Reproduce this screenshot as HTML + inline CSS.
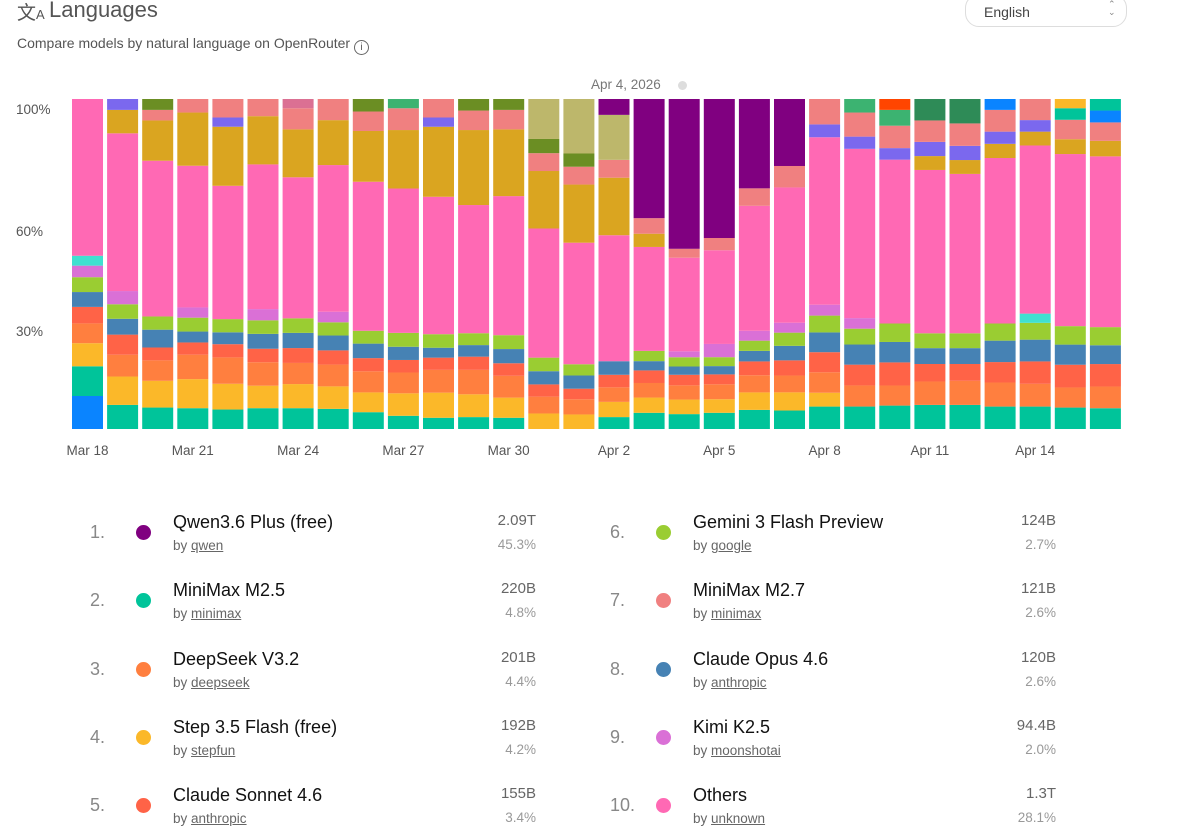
<!DOCTYPE html>
<html><head><meta charset="utf-8"><style>
html,body{margin:0;padding:0;background:#fff;width:1200px;height:840px;overflow:hidden;font-family:"Liberation Sans",sans-serif;}
.abs{position:absolute;}
.rank{position:absolute;font-size:18px;color:#888;}
.dot{position:absolute;width:15px;height:15px;border-radius:50%;}
.nm{position:absolute;font-size:18px;color:#111;white-space:nowrap;}
.by{position:absolute;font-size:13.5px;color:#666;}
.by u{text-decoration:underline;color:#666;}
.val{position:absolute;font-size:15px;color:#666;text-align:right;width:120px;}
.pct{position:absolute;font-size:13.5px;color:#999;text-align:right;width:120px;}
</style></head><body>
<div class="abs" style="left:17px;top:-2px;font-size:19px;color:#555;">文<span style="font-size:13px">A</span></div>
<div class="abs" style="left:49px;top:-3px;font-size:22px;color:#555;">Languages</div>
<div class="abs" style="left:17px;top:35px;font-size:14px;color:#555;">Compare models by natural language on OpenRouter <span style="display:inline-block;width:13px;height:13px;border:1px solid #666;border-radius:50%;font-size:10px;text-align:center;line-height:13px;vertical-align:-2px;">i</span></div>
<div class="abs" style="left:965px;top:-6px;width:162px;height:33px;border:1px solid #ddd;border-radius:14px;box-sizing:border-box;">
<span class="abs" style="left:18px;top:9px;font-size:14px;color:#444;">English</span>
<span class="abs" style="left:142px;top:5px;font-size:9px;color:#888;line-height:8px;">⌃<br>⌄</span></div>
<div class="abs" style="left:591px;top:77px;font-size:13.5px;color:#777;">Apr 4, 2026</div>
<div class="abs" style="left:678px;top:81px;width:9px;height:9px;border-radius:50%;background:#ddd;"></div>
<svg class="abs" style="left:0;top:0" width="1200" height="480" id="chart"></svg>
<div id="legend"></div>
<script>
const dates=["Mar 18","Mar 19","Mar 20","Mar 21","Mar 22","Mar 23","Mar 24","Mar 25","Mar 26","Mar 27","Mar 28","Mar 29","Mar 30","Mar 31","Apr 1","Apr 2","Apr 3","Apr 4","Apr 5","Apr 6","Apr 7","Apr 8","Apr 9","Apr 10","Apr 11","Apr 12","Apr 13","Apr 14","Apr 15","Apr 16"];
const seriesNames=["bottom-blue","minimax-m2-5","step-3-5-flash","deepseek-v3-2","claude-sonnet-4-6","claude-opus-4-6","gemini-3-flash","kimi-k2-5","turquoise-model","others","goldenrod-model","slateblue-model","minimax-m2-7","olive-model","khaki-model","qwen3-6-plus","paleviolet-model","seagreen-model","darkgreen-model","blue-model","orangered-model","teal-model-2","yellow-model-2"];
const seriesColors=["#0a84ff","#00c49a","#fbb829","#ff7f3f","#ff6347","#4682b4","#9acd32","#da70d6","#40e0d0","#ff69b4","#daa520","#7b68ee","#f08080","#6b8e23","#bdb76b","#800080","#db7093","#3cb371","#2e8b57","#0a84ff","#ff4500","#00c49a","#fbb829"];
const sBottomBlue=[10,0,0,0,0,0,0,0,0,0,0,0,0,0,0,0,0,0,0,0,0,0,0,0,0,0,0,0,0,0];
const sMinimax25=[9,7.3,6.5,6.3,5.9,6.3,6.3,6.1,5.1,4,3.4,3.6,3.4,0,0,3.6,4.9,4.5,4.9,5.8,5.6,6.8,6.8,7.1,7.3,7.3,6.8,6.8,6.5,6.3];
const sStep=[7,8.6,8.1,8.8,7.8,6.8,7.3,6.8,6,6.8,7.6,6.9,6.1,4.7,4.4,4.6,4.6,4.4,4.1,5.3,5.5,4.2,0,0,0,0,0,0,0,0];
const sDeepseek=[6,6.6,6.2,7.4,8,7.1,6.4,6.6,6.4,6.3,6.9,7.4,6.6,5.1,4.6,4.4,4.4,4.3,4.5,5.2,5.1,6.2,6.4,6.1,7.1,7.3,7.3,6.9,6.1,6.6];
const sSonnet=[5,6.1,3.9,3.7,4,4.1,4.5,4.3,4,3.8,3.7,4,3.8,3.7,3.2,3.8,3.8,3.2,3,4.2,4.6,6.1,6.3,7,5.3,5.1,6.2,6.8,6.9,6.8];
const sOpus=[4.5,4.8,5.4,3.3,3.6,4.5,4.6,4.5,4.4,4,3,3.5,4.3,4,4,4.1,2.8,2.5,2.5,3.2,4.4,6,6.1,6.2,4.8,4.8,6.5,6.6,6.1,5.7];
const sGemini=[4.5,4.4,4,4.2,4,4.1,4.4,4,3.9,4.2,4.1,3.6,4.2,4.1,3.4,0,3.1,2.8,2.7,3.1,4,5.1,4.8,5.6,4.5,4.5,5.2,5.1,5.6,5.5];
const sKimi=[3.5,4,0,3.1,0,3.4,0,3.2,0,0,0,0,0,0,0,0,0,1.8,4,3,3,3.3,3.2,0,0,0,0,0,0,0];
const sTurq=[3,0,0,0,0,0,0,0,0,0,0,0,0,0,0,0,0,0,0,0,0,0,0,0,0,0,0,2.8,0,0];
const sOthers=[47.5,47.8,47.2,42.9,40.4,43.8,42.7,44.4,45.2,43.7,41.6,38.8,42.1,39.1,36.8,38.1,31.4,28.3,28.3,37.9,41,50.8,51.3,49.7,49.5,48.3,50.2,51,52.2,51.8];
const sGold=[0,7.1,12.2,16.1,17.9,14.6,14.5,13.6,15.4,17.7,21.2,22.7,20.2,17.4,17.6,17.4,4,0,0,0,0,0,0,0,4.2,4.2,4.3,4.2,4.5,4.7];
const sSlate=[0,3.3,0,0,2.8,0,0,0,0,0,2.8,0,0,0,0,0,0,0,0,0,0,3.9,3.7,3.5,4.3,4.3,3.7,3.5,0,0];
const sMinimax27=[0,0,3.2,4.1,5.6,5.2,6.4,6.4,5.9,6.6,5.6,5.9,5.9,5.4,5.4,5.4,4.7,2.7,3.7,5.3,6.5,7.7,7.3,6.8,6.5,6.8,6.6,6.4,5.9,5.6];
const sOlive=[0,0,3.3,0,0,0,0,0,3.8,0,0,3.5,3.3,4.3,4,0,0,0,0,0,0,0,0,0,0,0,0,0,0,0];
const sKhaki=[0,0,0,0,0,0,0,0,0,0,0,0,0,12.1,16.5,13.6,0,0,0,0,0,0,0,0,0,0,0,0,0,0];
const sQwen=[0,0,0,0,0,0,0,0,0,0,0,0,0,0,0,4.8,36,45.3,42,27.1,20.3,0,0,0,0,0,0,0,0,0];
const sPviolet=[0,0,0,0,0,0,2.8,0,0,0,0,0,0,0,0,0,0,0,0,0,0,0,0,0,0,0,0,0,0,0];
const sSeagreen=[0,0,0,0,0,0,0,0,0,2.8,0,0,0,0,0,0,0,0,0,0,0,0,4.1,4.8,0,0,0,0,0,0];
const sDarkgreen=[0,0,0,0,0,0,0,0,0,0,0,0,0,0,0,0,0,0,0,0,0,0,0,0,6.5,7.4,0,0,0,0];
const sBlue=[0,0,0,0,0,0,0,0,0,0,0,0,0,0,0,0,0,0,0,0,0,0,0,0,0,0,3.3,0,0,3.6];
const sOrangered=[0,0,0,0,0,0,0,0,0,0,0,0,0,0,0,0,0,0,0,0,0,0,0,3.3,0,0,0,0,0,0];
const sTeal2=[0,0,0,0,0,0,0,0,0,0,0,0,0,0,0,0,0,0,0,0,0,0,0,0,0,0,0,0,3.5,3.5];
const sYellow2=[0,0,0,0,0,0,0,0,0,0,0,0,0,0,0,0,0,0,0,0,0,0,0,0,0,0,0,0,2.8,0];
const yTicks=["100%","60%","30%"];
const xTickIdx=[0,3,6,9,12,15,18,21,24,27];

const series=[sBottomBlue,sMinimax25,sStep,sDeepseek,sSonnet,sOpus,sGemini,sKimi,sTurq,sOthers,sGold,sSlate,sMinimax27,sOlive,sKhaki,sQwen,sPviolet,sSeagreen,sDarkgreen,sBlue,sOrangered,sTeal2,sYellow2];
const NS="http://www.w3.org/2000/svg";
const svg=document.getElementById('chart');
const top0=99,bot0=429,left0=72,step=35.1,bw=31;
const xPos=i=>left0+i*step;
const yPos=p=>bot0-(p/100)*(bot0-top0);
const yLabelPos={"100%":109,"60%":231,"30%":331};
function mk(tag,attrs){const e=document.createElementNS(NS,tag);for(const k in attrs)e.setAttribute(k,attrs[k]);return e;}
for(let i=0;i<dates.length;i++){
  let tot=0;series.forEach(s=>tot+=s[i]);
  let cum=0;
  const g=mk('g',{});
  
  
  series.forEach((s,k)=>{
    if(!s[i])return;
    const p0=cum/tot*100,p1=(cum+s[i])/tot*100;cum+=s[i];
    const r=mk('rect',{x:xPos(i),y:yPos(p1),width:bw,height:yPos(p0)-yPos(p1),fill:seriesColors[k]});
    
    
    g.appendChild(r);
  });
  svg.appendChild(g);
}
yTicks.forEach(t=>{
  const e=mk('text',{x:16,y:yLabelPos[t]+5,'font-size':13.5,fill:'#555','font-family':'Liberation Sans, sans-serif'});
  e.textContent=t;
  
  
  svg.appendChild(e);
});
xTickIdx.forEach(i=>{
  const e=mk('text',{x:xPos(i)+bw/2,y:455,'font-size':13.5,fill:'#555','text-anchor':'middle','font-family':'Liberation Sans, sans-serif'});
  e.textContent=dates[i];
  
  
  svg.appendChild(e);
});

const legRank=["1.","2.","3.","4.","5.","6.","7.","8.","9.","10."];
const legNames=["Qwen3.6 Plus (free)","MiniMax M2.5","DeepSeek V3.2","Step 3.5 Flash (free)","Claude Sonnet 4.6","Gemini 3 Flash Preview","MiniMax M2.7","Claude Opus 4.6","Kimi K2.5","Others"];
const legAuthors=["qwen","minimax","deepseek","stepfun","anthropic","google","minimax","anthropic","moonshotai","unknown"];
const legTokens=["2.09T","220B","201B","192B","155B","124B","121B","120B","94.4B","1.3T"];
const legPct=["45.3%","4.8%","4.4%","4.2%","3.4%","2.7%","2.6%","2.6%","2.0%","28.1%"];
const legColors=["#800080","#00c49a","#ff7f3f","#fbb829","#ff6347","#9acd32","#f08080","#4682b4","#da70d6","#ff69b4"];
const leg=document.getElementById('legend');
legNames.forEach((n,i)=>{
  const col=i<5?0:1,row=i%5;
  const ox=col*520,oy=row*68.3;
  const d=document.createElement('div');
  
  
  d.innerHTML=`<div class="rank" style="left:${90+ox}px;top:${522+oy}px">${legRank[i]}</div>
<div class="dot" style="left:${136+ox}px;top:${525+oy}px;background:${legColors[i]}"></div>
<div class="nm" style="left:${173+ox}px;top:${512+oy}px">${n}</div>
<div class="by" style="left:${173+ox}px;top:${538+oy}px">by <u>${legAuthors[i]}</u></div>
<div class="val" style="left:${416+ox}px;top:${512+oy}px">${legTokens[i]}</div>
<div class="pct" style="left:${416+ox}px;top:${537+oy}px">${legPct[i]}</div>`;
  leg.appendChild(d);
});
</script>
</body></html>
